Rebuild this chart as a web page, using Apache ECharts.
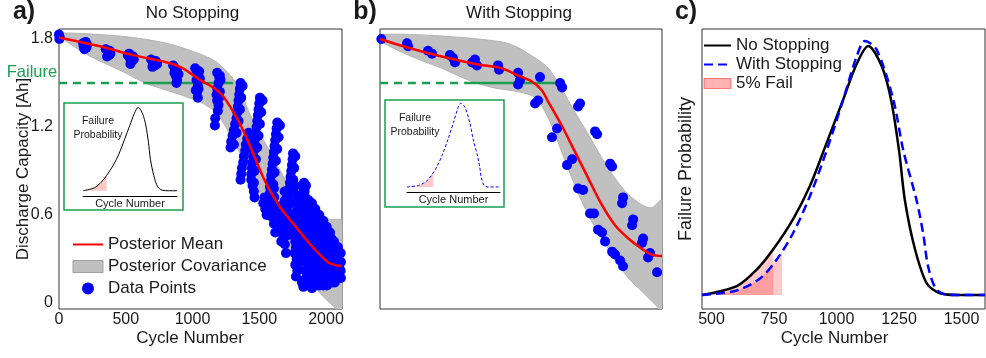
<!DOCTYPE html>
<html lang="en">
<head>
<meta charset="UTF-8">
<title>Capacity fade and failure probability</title>
<script src="https://cdn.jsdelivr.net/npm/echarts@6/dist/echarts.min.js"></script>
<style>
html,body{margin:0;padding:0;background:#fff}
#chartBox{width:986px;height:358px}
</style>
</head>
<body>
<div id="chartBox"></div>
<script>
// ---- data ----
// tick labels
const cycleTicksA = [0, 500, 1000, 1500, 2000];
const cycleTicksC = [500, 750, 1000, 1250, 1500];
const capTicks = [0, 0.6, 1.2, 1.8];

// failure threshold and where its line runs dashed / solid / ends
const failCap = 1.5;
const failSpanA = [0, 644, 1303];
const failSpanB = [0, 654, 1331];

// a) No Stopping: measured capacity [cycle, Ah]
const capA = [
  [0,1.83],[6,1.81],[3,1.80],
  [180,1.77],[195,1.76],[205,1.74],[190,1.73],[200,1.78],[185,1.75],[210,1.76],
  [350,1.73],[365,1.71],[375,1.69],[360,1.68],[380,1.72],[370,1.70],[385,1.70],
  [515,1.69],[530,1.67],[545,1.65],[535,1.63],[555,1.68],[525,1.70],[540,1.66],[560,1.66],
  [690,1.66],[710,1.64],[720,1.62],[700,1.61],[725,1.65],[705,1.63],[735,1.63],
  [855,1.62],[870,1.60],[885,1.58],[875,1.55],[885,1.52],[865,1.57],[880,1.50],[895,1.56],
  [1020,1.60],[1035,1.57],[1045,1.55],[1030,1.52],[1040,1.48],[1035,1.44],[1040,1.40],[1050,1.58],[1045,1.46],[1055,1.53],[1025,1.45],
  [1185,1.57],[1200,1.54],[1195,1.50],[1185,1.46],[1180,1.42],[1185,1.38],[1195,1.35],[1190,1.31],[1170,1.26],[1168,1.21],[1205,1.55],
  [1210,1.52],[1205,1.44],[1200,1.40],
  [1360,1.50],[1355,1.46],[1350,1.42],[1345,1.38],[1340,1.34],[1335,1.30],[1330,1.26],[1320,1.22],[1310,1.18],[1300,1.14],[1290,1.10],[1285,1.06],
  [1375,1.48],[1365,1.40],[1355,1.32],[1345,1.24],[1330,1.16],[1310,1.08],
  [1420,1.16],[1410,1.12],[1400,1.08],[1395,1.04],[1385,1.00],[1380,0.96],[1370,0.92],[1365,0.88],[1360,0.84],
  [1505,1.40],[1500,1.36],[1495,1.32],[1490,1.28],[1485,1.24],[1480,1.20],[1475,1.16],[1470,1.12],[1465,1.08],[1460,1.04],[1455,1.00],[1450,0.96],[1445,0.92],[1440,0.88],[1440,0.84],[1450,0.80],[1460,0.76],[1465,0.72],
  [1525,1.38],[1515,1.30],[1505,1.22],[1495,1.14],[1485,1.06],[1475,0.98],[1465,0.90],[1460,0.82],
  [1635,1.23],[1630,1.19],[1625,1.15],[1620,1.11],[1615,1.07],[1610,1.03],[1605,0.99],[1600,0.95],[1595,0.91],[1590,0.87],[1585,0.83],[1580,0.79],[1580,0.75],[1575,0.71],[1570,0.67],[1580,0.63],[1590,0.59],
  [1655,1.21],[1645,1.13],[1635,1.05],[1625,0.97],[1615,0.89],[1605,0.81],[1600,0.73],[1595,0.65],
  [1753,1.02],[1750,0.98],[1745,0.94],[1740,0.90],[1735,0.86],[1730,0.82],[1725,0.78],[1720,0.74],[1715,0.70],[1712,0.66],[1710,0.62],[1708,0.58],[1705,0.54],[1700,0.50],[1710,0.46],
  [1770,1.00],[1762,0.92],[1755,0.84],[1745,0.76],[1735,0.68],[1728,0.60],[1722,0.52],
  [1835,0.82],[1832,0.78],[1828,0.74],[1825,0.70],[1820,0.66],[1815,0.62],[1812,0.58],[1808,0.54],[1805,0.50],[1800,0.46],[1798,0.42],[1795,0.38],[1792,0.34],[1790,0.30],[1790,0.26],
  [1850,0.80],[1845,0.72],[1840,0.64],[1830,0.56],[1822,0.48],[1815,0.40],[1808,0.32],
  [1530,0.68],[1545,0.64],[1555,0.60],[1540,0.72],
  [1650,0.62],[1665,0.58],[1660,0.54],[1670,0.50],[1680,0.46],[1665,0.42],[1655,0.66],
  [1610,0.78],[1612,0.72],[1608,0.66],[1615,0.60],[1610,0.54],[1620,0.48],
  [1690,0.76],[1692,0.70],[1688,0.64],[1695,0.58],[1690,0.52],[1698,0.46],[1692,0.40],[1700,0.34],
  [1760,0.46],[1770,0.42],[1775,0.38],[1765,0.34],[1780,0.30],[1770,0.26],[1785,0.22],[1775,0.18],[1760,0.50],
  [1770,0.80],[1772,0.74],[1768,0.68],[1775,0.62],[1770,0.56],
  [1840,0.76],[1842,0.70],[1838,0.64],[1845,0.58],[1840,0.52],[1848,0.46],[1842,0.40],[1848,0.34],[1840,0.28],[1846,0.22],[1840,0.16],
  [1870,0.70],[1865,0.64],[1875,0.60],[1860,0.56],[1870,0.52],[1880,0.48],[1865,0.44],[1875,0.40],[1860,0.36],[1870,0.32],[1880,0.28],[1865,0.24],[1875,0.20],[1860,0.16],[1850,0.12],
  [1895,0.68],[1898,0.62],[1892,0.56],[1900,0.50],[1895,0.44],[1902,0.38],[1896,0.32],[1900,0.26],[1894,0.20],[1900,0.14],[1895,0.10],
  [1920,0.64],[1915,0.60],[1930,0.56],[1910,0.52],[1925,0.48],[1935,0.44],[1915,0.40],[1930,0.36],[1910,0.32],[1925,0.28],[1935,0.24],[1915,0.20],[1930,0.16],[1920,0.12],
  [1950,0.60],[1952,0.54],[1948,0.48],[1955,0.42],[1950,0.36],[1956,0.30],[1950,0.24],[1955,0.18],[1950,0.12],
  [1980,0.56],[1975,0.52],[1990,0.48],[1970,0.44],[1985,0.40],[1975,0.36],[1990,0.32],[1970,0.28],[1985,0.24],[1975,0.20],[1990,0.16],[1980,0.12],
  [2005,0.52],[2008,0.46],[2002,0.40],[2010,0.34],[2005,0.28],[2010,0.22],[2004,0.16],[2008,0.12],
  [2030,0.48],[2040,0.44],[2035,0.40],[2045,0.36],[2030,0.32],[2050,0.28],[2035,0.24],[2045,0.20],[2030,0.16],[2050,0.14],
  [2060,0.42],[2065,0.36],[2062,0.30],[2068,0.24],[2062,0.18],[2066,0.14],
  [2090,0.38],[2095,0.34],[2085,0.30],[2100,0.26],[2090,0.22],[2095,0.18],
  [2110,0.34],[2112,0.28],[2110,0.22],[2112,0.17],
  [1820,0.14],[1830,0.11]
];
const meanA = [[0,1.81],[307,1.75],[554,1.69],[809,1.64],[928,1.60],[1057,1.52],[1154,1.47],[1220,1.42],[1281,1.34],[1345,1.24],[1408,1.12],[1468,0.99],[1528,0.86],[1590,0.75],[1655,0.655],[1720,0.58],[1783,0.51],[1845,0.44],[1902,0.38],[1965,0.32],[2030,0.27],[2120,0.25]];
const upperA = [[0,1.84],[307,1.83],[554,1.81],[809,1.77],[1019,1.71],[1168,1.65],[1266,1.57],[1341,1.48],[1453,1.24],[1558,1.07],[1678,0.87],[1805,0.71],[1932,0.61],[2030,0.57],[2120,0.56]];
const lowerA = [[0,1.82],[217,1.69],[472,1.58],[644,1.50],[809,1.45],[1057,1.37],[1184,1.29],[1303,1.11],[1431,0.89],[1558,0.65],[1678,0.43],[1805,0.25],[1932,0.09],[2030,0.0],[2120,-0.06]];

// b) With Stopping
const capB = [
  [10,1.80],[203,1.77],[211,1.75],[361,1.72],[391,1.70],
  [526,1.69],[549,1.67],[564,1.64],[692,1.64],[714,1.66],[729,1.62],
  [887,1.62],[895,1.59],[1038,1.57],[1053,1.52],[1038,1.49],
  [1203,1.54],[1188,1.38],[1166,1.36],[1354,1.50],[1369,1.47],
  [1331,1.19],[1293,1.13],[1504,1.36],[1489,1.34],[1406,0.94],[1444,0.98],
  [1617,1.17],[1632,1.15],[1489,0.78],[1527,0.77],[1730,0.95],[1745,0.93],
  [1579,0.61],[1609,0.61],[1827,0.72],[1820,0.68],
  [1639,0.50],[1669,0.48],[1692,0.42],[1903,0.57],[1895,0.53],
  [1745,0.35],[1767,0.33],[1805,0.29],[1827,0.25],
  [1978,0.44],[1970,0.41],[2030,0.34],[2015,0.31],[2083,0.21]
];
const meanB = [[0,1.80],[213,1.74],[464,1.68],[714,1.63],[915,1.60],[1040,1.55],[1141,1.51],[1216,1.45],[1266,1.37],[1366,1.21],[1466,1.03],[1566,0.85],[1667,0.67],[1767,0.53],[1867,0.44],[1968,0.37],[2043,0.33],[2120,0.32]];
const upperB = [[0,1.83],[464,1.82],[915,1.78],[1040,1.74],[1166,1.67],[1266,1.60],[1366,1.46],[1466,1.30],[1566,1.15],[1667,0.99],[1767,0.85],[1867,0.74],[1968,0.67],[2043,0.65],[2120,0.70]];
const lowerB = [[0,1.79],[213,1.69],[464,1.60],[664,1.52],[840,1.47],[1040,1.44],[1166,1.40],[1266,1.26],[1366,1.03],[1466,0.80],[1566,0.60],[1667,0.44],[1767,0.30],[1867,0.17],[1968,0.08],[2068,-0.01],[2120,-0.05]];

// c) failure probability (relative)
const probNo = [[462,0],[601,0.035],[681,0.10],[747,0.18],[827,0.30],[894,0.43],[961,0.60],[1027,0.77],[1081,0.91],[1127,0.98],[1181,0.90],[1218,0.77],[1250,0.57],[1274,0.37],[1314,0.18],[1361,0.046],[1414,0.007],[1494,0],[1594,0]];
const probWith = [[462,0],[601,0.018],[694,0.065],[761,0.14],[827,0.245],[894,0.39],[961,0.57],[1027,0.77],[1081,0.94],[1114,1.0],[1161,0.965],[1227,0.77],[1267,0.57],[1321,0.37],[1347,0.24],[1367,0.11],[1401,0.02],[1454,0],[1594,0]];
// lowest 5 % of each distribution
const failNo = [[462,0],[601,0.035],[681,0.10],[747,0.18]];
const failWith = [[462,0],[601,0.018],[694,0.065],[761,0.14],[782,0.17]];

// ---- styling ----
const FONT = "'Liberation Sans', Arial, sans-serif";
const TXT = '#1a1a1a';
const GREEN = '#1a9f50';
const PINK = 'rgba(255,0,0,0.3)';

function bandSeries(name, xi, upper, lower) {
    return {
        type: 'custom', name: name, xAxisIndex: xi, yAxisIndex: xi,
        data: [[0, 0]], clip: true, silent: true, z: 1,
        itemStyle: {color: '#c0c0c0', borderColor: '#a8a8a8'},
        renderItem: function (params, api) {
            let pts = upper.map(p => api.coord(p))
                .concat(lower.slice().reverse().map(p => api.coord(p)));
            return {
                type: 'polygon',
                shape: {points: pts, smooth: 0.3},
                style: {fill: '#c0c0c0', stroke: '#b4b4b4', lineWidth: 1}
            };
        }
    };
}

function lineSeries(name, xi, data, color, width, dash, z) {
    return {
        type: 'line', name: name, xAxisIndex: xi, yAxisIndex: xi,
        data: data, symbol: 'none', smooth: 0.3, z: z || 4, silent: true,
        lineStyle: {color: color, width: width, type: dash || 'solid'},
        itemStyle: {color: color}
    };
}

function fillSeries(name, xi, data) {
    return {
        type: 'line', name: name, xAxisIndex: xi, yAxisIndex: xi,
        data: data, symbol: 'none', smooth: 0.3, z: 2, silent: true,
        lineStyle: {width: 0}, itemStyle: {color: PINK},
        areaStyle: {color: PINK, origin: 0}
    };
}

function failLines(xi, span) {
    return [
        lineSeries('fail dash ' + xi, xi, [[span[0], failCap], [span[1], failCap]], GREEN, 2.5, [8, 6], 2),
        lineSeries('fail ' + xi, xi, [[span[1], failCap], [span[2], failCap]], GREEN, 2.5, 'solid', 2)
    ];
}

function scatterSeries(name, xi, data) {
    return {
        type: 'scatter', name: name, xAxisIndex: xi, yAxisIndex: xi,
        data: data, symbol: 'circle', symbolSize: 10, z: 3, silent: true,
        itemStyle: {color: '#0000ff', opacity: 1}
    };
}

const hidden = {show: false};
const gridBox = {show: true, borderColor: '#333', borderWidth: 1, backgroundColor: 'transparent'};
const plainNum = v => String(v);
// legend line icons without the circle marker
const noMarker = {opacity: 0};

function text(str, x, y, size, extra) {
    return {
        type: 'text', x: x, y: y, z: 100, silent: true,
        style: Object.assign({text: str, font: size + 'px ' + FONT, fill: TXT, align: 'center', verticalAlign: 'middle'}, extra || {})
    };
}

const option = {
    animation: false,
    backgroundColor: '#fff',
    textStyle: {fontFamily: FONT, color: TXT},
    grid: [
        Object.assign({left: 59, top: 29, width: 283, height: 280}, gridBox),
        Object.assign({left: 380, top: 29, width: 282, height: 280}, gridBox),
        Object.assign({left: 702, top: 29, width: 283, height: 280}, gridBox),
        {left: 83, top: 104, width: 94, height: 92},
        {left: 407, top: 101, width: 93, height: 91}
    ],
    xAxis: [
        {
            gridIndex: 0, type: 'value', min: 0, max: 2120,
            axisLine: hidden, axisTick: hidden, splitLine: hidden,
            axisLabel: {customValues: cycleTicksA, formatter: plainNum, fontSize: 16, color: TXT, margin: 3, fontFamily: FONT},
            name: 'Cycle Number', nameLocation: 'middle', nameGap: 21, nameMoveOverlap: false,
            nameTextStyle: {fontSize: 17, color: TXT, fontFamily: FONT, padding: [0, 21, 0, 0]}
        },
        {
            gridIndex: 1, type: 'value', min: 0, max: 2120,
            axisLine: hidden, axisTick: hidden, splitLine: hidden, axisLabel: hidden
        },
        {
            gridIndex: 2, type: 'value', min: 462, max: 1594,
            axisLine: hidden, axisTick: hidden, splitLine: hidden,
            axisLabel: {customValues: cycleTicksC, formatter: plainNum, fontSize: 16, color: TXT, margin: 3, fontFamily: FONT},
            name: 'Cycle Number', nameLocation: 'middle', nameGap: 21, nameMoveOverlap: false,
            nameTextStyle: {fontSize: 17, color: TXT, fontFamily: FONT, padding: [0, 18, 0, 0]}
        },
        {
            gridIndex: 3, type: 'value', min: 462, max: 1594,
            axisLine: {show: true, onZero: false, lineStyle: {color: '#000', width: 1}},
            axisTick: hidden, splitLine: hidden, axisLabel: hidden,
            name: 'Cycle Number', nameLocation: 'middle', nameGap: 2,
            nameTextStyle: {fontSize: 11, color: TXT, fontFamily: FONT}
        },
        {
            gridIndex: 4, type: 'value', min: 462, max: 1594,
            axisLine: {show: true, onZero: false, lineStyle: {color: '#000', width: 1}},
            axisTick: hidden, splitLine: hidden, axisLabel: hidden,
            name: 'Cycle Number', nameLocation: 'middle', nameGap: 2,
            nameTextStyle: {fontSize: 11, color: TXT, fontFamily: FONT}
        }
    ],
    yAxis: [
        {
            gridIndex: 0, type: 'value', min: -0.041, max: 1.868,
            axisLine: hidden, axisTick: hidden, splitLine: hidden,
            axisLabel: {customValues: capTicks, formatter: plainNum, fontSize: 16, color: TXT, margin: 6, fontFamily: FONT},
            name: 'Discharge Capacity [Ah]', nameLocation: 'middle', nameGap: 27, nameMoveOverlap: false,
            nameTextStyle: {fontSize: 17, color: TXT, fontFamily: FONT}
        },
        {
            gridIndex: 1, type: 'value', min: -0.041, max: 1.868,
            axisLine: hidden, axisTick: hidden, splitLine: hidden, axisLabel: hidden
        },
        {
            gridIndex: 2, type: 'value', min: -0.055, max: 1.047,
            axisLine: hidden, axisTick: hidden, splitLine: hidden, axisLabel: hidden,
            name: 'Failure Probability', nameLocation: 'middle', nameGap: 7, nameMoveOverlap: false,
            nameTextStyle: {fontSize: 18, color: TXT, fontFamily: FONT}
        },
        {gridIndex: 3, type: 'value', min: -0.062, max: 1.019, show: false},
        {gridIndex: 4, type: 'value', min: -0.06, max: 1.028, show: false}
    ],
    legend: [
        {
            left: 72, top: 236, orient: 'vertical', itemGap: 5, padding: 0,
            itemWidth: 30, itemHeight: 12, selectedMode: false,
            textStyle: {fontSize: 17, color: TXT, fontFamily: FONT},
            data: [
                {name: 'Posterior Mean', itemStyle: noMarker},
                {name: 'Posterior Covariance', icon: 'rect', itemStyle: {color: '#c0c0c0', borderColor: '#a0a0a0', borderWidth: 1}},
                {name: 'Data Points', icon: 'circle'}
            ]
        },
        {
            left: 703, top: 37, orient: 'vertical', itemGap: 2, padding: 0,
            itemWidth: 27, itemHeight: 10, selectedMode: false,
            textStyle: {fontSize: 17, color: TXT, fontFamily: FONT},
            data: [
                {name: 'No Stopping', itemStyle: noMarker},
                {name: 'With Stopping', itemStyle: noMarker},
                {name: '5% Fail', icon: 'rect', itemStyle: {color: PINK, borderColor: 'rgba(255,0,0,0.45)', borderWidth: 1}}
            ]
        }
    ],
    graphic: [
        text('a)', 24, 12, 25, {font: 'bold 25px ' + FONT}),
        text('b)', 365, 12, 25, {font: 'bold 25px ' + FONT}),
        text('c)', 686, 12, 25, {font: 'bold 25px ' + FONT}),
        text('No Stopping', 192.5, 13, 17),
        text('With Stopping', 519, 13, 17),
        text('Failure', 32, 72, 16.5, {fill: GREEN}),
        {type: 'rect', z: 100, silent: true, shape: {x: 64, y: 103, width: 119, height: 107},
            style: {fill: 'none', stroke: GREEN, lineWidth: 1.5}},
        {type: 'rect', z: 100, silent: true, shape: {x: 385, y: 100, width: 119, height: 107},
            style: {fill: 'none', stroke: GREEN, lineWidth: 1.5}},
        text('Failure\nProbability', 98, 128, 10.5, {lineHeight: 14}),
        text('Failure\nProbability', 415, 125, 10.5, {lineHeight: 14})
    ],
    series: [
        // a) No Stopping
        bandSeries('Posterior Covariance', 0, upperA, lowerA),
        ...failLines(0, failSpanA),
        scatterSeries('Data Points', 0, capA),
        lineSeries('Posterior Mean', 0, meanA, '#ff0000', 2.5),
        // b) With Stopping
        bandSeries('Posterior Covariance B', 1, upperB, lowerB),
        ...failLines(1, failSpanB),
        scatterSeries('Data Points B', 1, capB),
        lineSeries('Posterior Mean B', 1, meanB, '#ff0000', 2.5),
        // c) failure probability
        fillSeries('5% Fail', 2, failNo),
        fillSeries('5% Fail', 2, failWith),
        lineSeries('No Stopping', 2, probNo, '#000000', 2.5),
        lineSeries('With Stopping', 2, probWith, '#0000ff', 2.5, [9, 5]),
        // insets
        fillSeries('inset fail A', 3, failNo),
        lineSeries('inset A', 3, probNo, '#000000', 1),
        fillSeries('inset fail B', 4, failWith),
        lineSeries('inset B', 4, probWith, '#0000ff', 1, [3, 2])
    ]
};

let chartObj = echarts.init(document.getElementById('chartBox'));
chartObj.setOption(option);
</script>
</body>
</html>
